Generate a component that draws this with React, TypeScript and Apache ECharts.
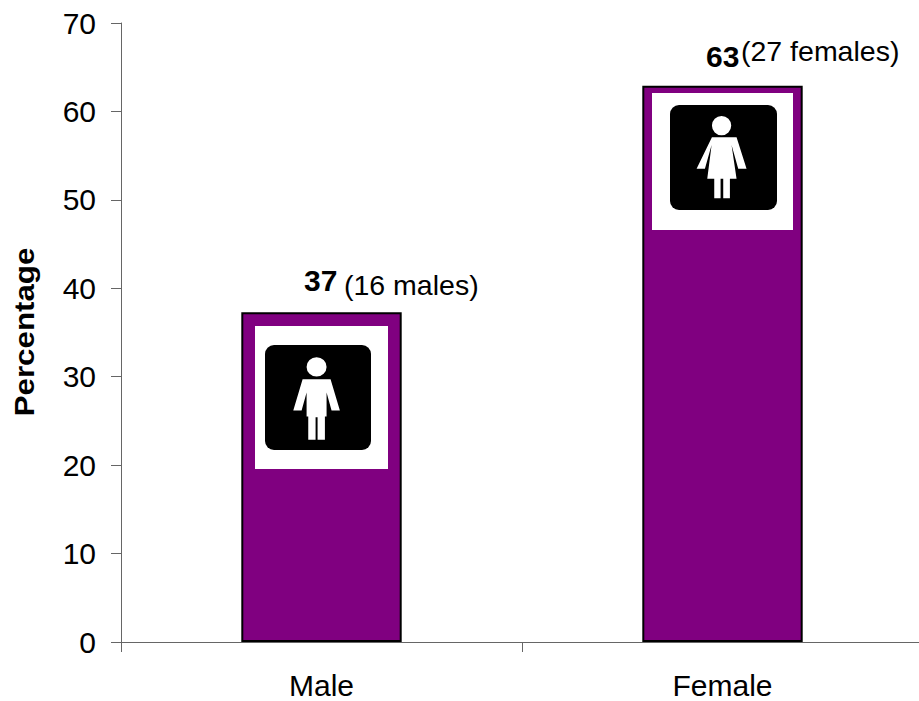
import React, { useEffect, useRef } from "react";
import * as echarts from "echarts";

const categories = ["Male", "Female"];
const percentages = [37.3, 62.9];
const valueLabels = ["37", "63"];
const notes = ["(16 males)", "(27 females)"];
const axisTitle = "Percentage";
const FONT = "Liberation Sans, Arial, sans-serif";

const malePath =
  "M218 358 L302 358 L330 452 L305 452 L290 398 L290 470 L285 470 L285 540 L263 540 L263 472 L257 472 L257 540 L235 540 L235 470 L230 470 L230 398 L215 452 L190 452 Z " +
  "M260 292 A30 29 0 1 0 260 350 A30 29 0 1 0 260 292 Z";
const femalePath =
  "M230 322 L246 322 L200 417 L225 417 L245 345 L232 447 L253 447 L253 505 L272 505 L272 447 L280 447 L280 505 L300 505 L300 447 L320 447 L305 345 L325 417 L350 417 L320 322 Z " +
  "M275 258 A29 29 0 1 0 275 316 A29 29 0 1 0 275 258 Z";
echarts.graphic.registerShape("maleIcon", echarts.graphic.extendPath(malePath, {}) as any);
echarts.graphic.registerShape("femaleIcon", echarts.graphic.extendPath(femalePath, {}) as any);

export default function App() {
  const ref = useRef<HTMLDivElement>(null);
  useEffect(() => {
    document.body.style.margin = "0";
    const chart = echarts.init(ref.current!, undefined, { renderer: "svg" });
    const axisLine = { show: true, lineStyle: { color: "#666", width: 1 } };
    const z = 10;
    chart.setOption({
      animation: false,
      backgroundColor: "#fff",
      grid: { left: 121, top: 23, width: 802, height: 619, containLabel: false, outerBoundsMode: "none" },
      xAxis: {
        type: "category",
        data: categories,
        axisLine: { ...axisLine, onZero: false },
        axisTick: { show: true, length: 10, alignWithLabel: false, lineStyle: { color: "#666" } },
        axisLabel: { color: "#000", fontFamily: FONT, fontSize: 30, margin: 28 },
      },
      yAxis: {
        type: "value",
        min: 0,
        max: 70,
        interval: 10,
        splitLine: { show: false },
        axisLine,
        axisTick: { show: true, length: 10, lineStyle: { color: "#666" } },
        axisLabel: { color: "#000", fontFamily: FONT, fontSize: 30, margin: 25 },
      },
      series: [
        {
          type: "bar",
          data: percentages,
          barWidth: "40%",
          itemStyle: { color: "#800080", borderColor: "#000", borderWidth: 2 },
          silent: true,
          label: { show: false },
        },
      ],
      graphic: [
        { type: "rect", z, shape: { x: 255, y: 326, width: 133, height: 143 }, style: { fill: "#fff" } },
        { type: "rect", z, shape: { x: 265, y: 345, width: 106, height: 105, r: 9 }, style: { fill: "#000" } },
        { type: "maleIcon", z, x: 230, y: 260, scaleX: 1 / 3, scaleY: 1 / 3, style: { fill: "#fff" } },
        { type: "rect", z, shape: { x: 652, y: 93, width: 141, height: 137 }, style: { fill: "#fff" } },
        { type: "rect", z, shape: { x: 670, y: 105, width: 107, height: 105, r: 9 }, style: { fill: "#000" } },
        { type: "femaleIcon", z, x: 630, y: 30, scaleX: 1 / 3, scaleY: 1 / 3, style: { fill: "#fff" } },
        { type: "text", z, x: 304, y: 295, style: { text: valueLabels[0], fill: "#000", font: `bold 30px ${FONT}`, verticalAlign: "bottom" } },
        { type: "text", z, x: 344, y: 299, style: { text: notes[0], fill: "#000", font: `28.5px ${FONT}`, verticalAlign: "bottom" } },
        { type: "text", z, x: 706, y: 71, style: { text: valueLabels[1], fill: "#000", font: `bold 30px ${FONT}`, verticalAlign: "bottom" } },
        { type: "text", z, x: 741, y: 65, style: { text: notes[1], fill: "#000", font: `28.5px ${FONT}`, verticalAlign: "bottom" } },
        { type: "text", z, x: 25, y: 332, rotation: Math.PI / 2, scaleX: 1.16, style: { text: axisTitle, fill: "#000", font: `bold 27px ${FONT}`, align: "center", verticalAlign: "middle" } },
      ],
    });
    return () => chart.dispose();
  }, []);
  return <div ref={ref} style={{ width: 919, height: 701 }} />;
}
